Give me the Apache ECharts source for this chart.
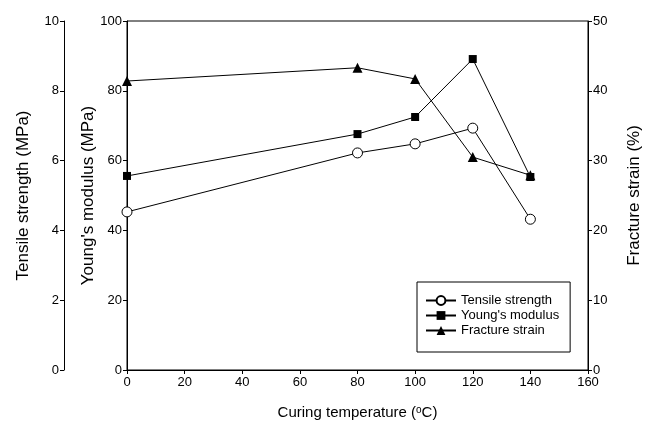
<!DOCTYPE html>
<html>
<head>
<meta charset="utf-8">
<script src="https://cdn.jsdelivr.net/npm/echarts@6/dist/echarts.min.js"></script>
<style>
  html, body { margin: 0; padding: 0; background: #fff; }
  #chart { width: 645px; height: 430px; }
</style>
</head>
<body>
<div id="chart"></div>
<script>
// curing temperature (°C)
var temps = [0, 80, 100, 120, 140];
// tensile strength (MPa) - outer left axis
var tensile = [4.53, 6.22, 6.48, 6.93, 4.32];
// young's modulus (MPa) - inner left axis
var youngs = [55.6, 67.6, 72.5, 89.1, 55.3];
// fracture strain (%) - right axis
var fracture = [41.4, 43.3, 41.7, 30.5, 27.9];

var font = 'Liberation Sans, Arial, sans-serif';

function pairs(arr) {
  return temps.map(function (t, i) { return [t, arr[i]]; });
}

function yAxisBase(extra) {
  var base = {
    type: 'value',
    nameLocation: 'middle',
    nameMoveOverlap: false,
    axisLine: { show: true, lineStyle: { color: '#000', width: 1 } },
    axisTick: { show: true, inside: false, length: 4, lineStyle: { color: '#000' } },
    axisLabel: { color: '#000', fontSize: 13, fontFamily: font, margin: 5 },
    splitLine: { show: false },
    nameTextStyle: { color: '#000', fontSize: 17, fontFamily: font }
  };
  return Object.assign(base, extra);
}

var chart = echarts.init(document.getElementById('chart'));

chart.setOption({
  animation: false,
  backgroundColor: '#fff',
  grid: {
    left: 127,
    right: 57,
    top: 21,
    bottom: 60,
    outerBoundsMode: 'none',
    show: true,
    borderColor: '#000',
    borderWidth: 1
  },
  legend: {
    orient: 'vertical',
    left: 417,
    top: 282,
    padding: [11, 11, 14, 8],
    itemGap: 0,
    itemWidth: 30,
    itemHeight: 11,
    borderColor: '#000',
    borderWidth: 1,
    borderRadius: 0,
    backgroundColor: '#fff',
    textStyle: { color: '#000', fontSize: 13, fontFamily: font, lineHeight: 15 },
    data: ['Tensile strength', "Young's modulus", 'Fracture strain']
  },
  xAxis: {
    type: 'value',
    min: 0,
    max: 160,
    interval: 20,
    name: '{a|Curing temperature (}{s|o}{a|C)}',
    nameLocation: 'middle',
    nameGap: 35,
    nameTextStyle: {
      rich: {
        a: { color: '#000', fontSize: 15, fontFamily: font },
        s: { color: '#000', fontSize: 10, fontFamily: font, verticalAlign: 'top', padding: [0, 0, 6, 0] }
      }
    },
    axisLine: { show: true, onZero: false, lineStyle: { color: '#000' } },
    axisTick: { show: true, inside: false, length: 4, lineStyle: { color: '#000' } },
    axisLabel: { color: '#000', fontSize: 13, fontFamily: font, margin: 6 },
    splitLine: { show: false }
  },
  yAxis: [
    yAxisBase({
      position: 'left',
      min: 0, max: 100, interval: 20,
      name: "Young's modulus (MPa)",
      nameGap: 30
    }),
    yAxisBase({
      position: 'left',
      offset: 63,
      min: 0, max: 10, interval: 2,
      name: 'Tensile strength (MPa)',
      nameGap: 32
    }),
    yAxisBase({
      position: 'right',
      min: 0, max: 50, interval: 10,
      name: 'Fracture strain (%)',
      nameGap: 38,
      nameRotate: 90
    })
  ],
  series: [
    {
      name: 'Tensile strength',
      type: 'line',
      yAxisIndex: 1,
      data: pairs(tensile),
      symbol: 'circle',
      symbolSize: 10,
      itemStyle: { color: '#fff', borderColor: '#000', borderWidth: 1 },
      lineStyle: { color: '#000', width: 1 },
      z: 3
    },
    {
      name: "Young's modulus",
      type: 'line',
      yAxisIndex: 0,
      data: pairs(youngs),
      symbol: 'rect',
      symbolSize: 8,
      itemStyle: { color: '#000' },
      lineStyle: { color: '#000', width: 1 },
      z: 4
    },
    {
      name: 'Fracture strain',
      type: 'line',
      yAxisIndex: 2,
      data: pairs(fracture),
      symbol: 'triangle',
      symbolSize: 10,
      itemStyle: { color: '#000' },
      lineStyle: { color: '#000', width: 1 },
      z: 5
    }
  ]
});
</script>
</body>
</html>
